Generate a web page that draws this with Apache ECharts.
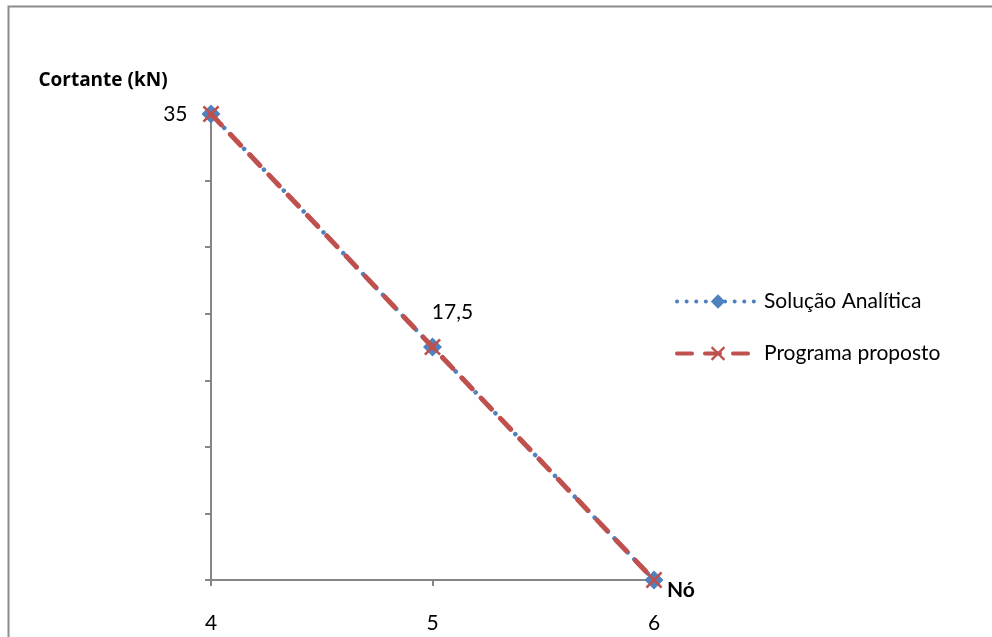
<!DOCTYPE html>
<html><head><meta charset="utf-8">
<script src="https://cdn.jsdelivr.net/npm/echarts@6/dist/echarts.min.js"></script>
<style>html,body{margin:0;padding:0;background:#fff}#c{width:992px;height:637px}</style>
</head><body><div id="c"></div>
<script>
const nodes = [4, 5, 6];
const analitica = [35, 17.5, 0];
const programa = [35, 17.5, 0];
const seriesNames = ['Solução Analítica', 'Programa proposto'];
const xTitle = 'Nó';
const yTitle = 'Cortante (kN)';

const F = 'Lato, "Open Sans", sans-serif';
const FS = 21;
const chart = echarts.init(document.getElementById('c'));
const crossPath = 'path://M0,1.1L1.1,0L10,8.9L8.9,10Z M8.9,0L10,1.1L1.1,10L0,8.9Z';
chart.setOption({
  animation: false,
  graphic: [{type:'rect', shape:{x:8.5,y:6.5,width:1000,height:700}, style:{fill:'none', stroke:'#8c8c8c', lineWidth:2}, z:-1}],
  grid: {left:211, right:338, top:114, bottom:57, containLabel:false},
  legend: {
    orient:'vertical', left:670, top:286, itemWidth:82, itemHeight:18, itemGap:31,
    textStyle:{fontFamily:F, fontSize:FS, color:'#000'},
    lineStyle:{width:4},
    data: seriesNames
  },
  xAxis: {
    type:'value', min:4, max:6, interval:1,
    name:xTitle, nameLocation:'end', nameGap:13,
    nameTextStyle:{fontFamily:F, fontSize:FS, fontWeight:'bold', color:'#000', verticalAlign:'top'},
    axisLine:{lineStyle:{color:'#868686', width:2}},
    axisTick:{show:true, length:6, lineStyle:{color:'#868686', width:2}},
    axisLabel:{fontFamily:F, fontSize:FS, color:'#000', margin:33},
    splitLine:{show:false}
  },
  yAxis: {
    type:'value', min:0, max:35, interval:5,
    name:yTitle, nameLocation:'end', nameGap:24,
    nameTextStyle:{fontFamily:'"Open Sans", Lato, sans-serif', fontSize:19, fontWeight:'bold', color:'#000', align:'center', padding:[0,216,0,0]},
    axisLine:{show:true, lineStyle:{color:'#868686', width:2}},
    axisTick:{show:true, length:6, lineStyle:{color:'#868686', width:2}},
    axisLabel:{show:false},
    splitLine:{show:false}
  },
  series: [
    {
      name:seriesNames[0], type:'line',
      data: nodes.map((x,i)=>({value:[x, analitica[i]], label: i===0 ? {show:true, position:'left', distance:14} : i===1 ? {show:true, position:'top', offset:[20,-10]} : {show:false}})),
      symbol:'diamond', symbolSize:19,
      itemStyle:{color:'#4F81BD'},
      lineStyle:{color:'#4F81BD', width:4.5, type:[0.1,9.5], cap:'round'},
      label:{fontFamily:F, fontSize:FS, color:'#000', formatter: p => String(p.value[1]).replace('.', ',')},
      z:2
    },
    {
      name:seriesNames[1], type:'line',
      data: nodes.map((x,i)=>[x, programa[i]]),
      symbol:crossPath, symbolSize:17,
      itemStyle:{color:'#C0504D'},
      lineStyle:{color:'#C0504D', width:5, type:[15,13], cap:'round'},
      z:3
    }
  ]
});
</script></body></html>
